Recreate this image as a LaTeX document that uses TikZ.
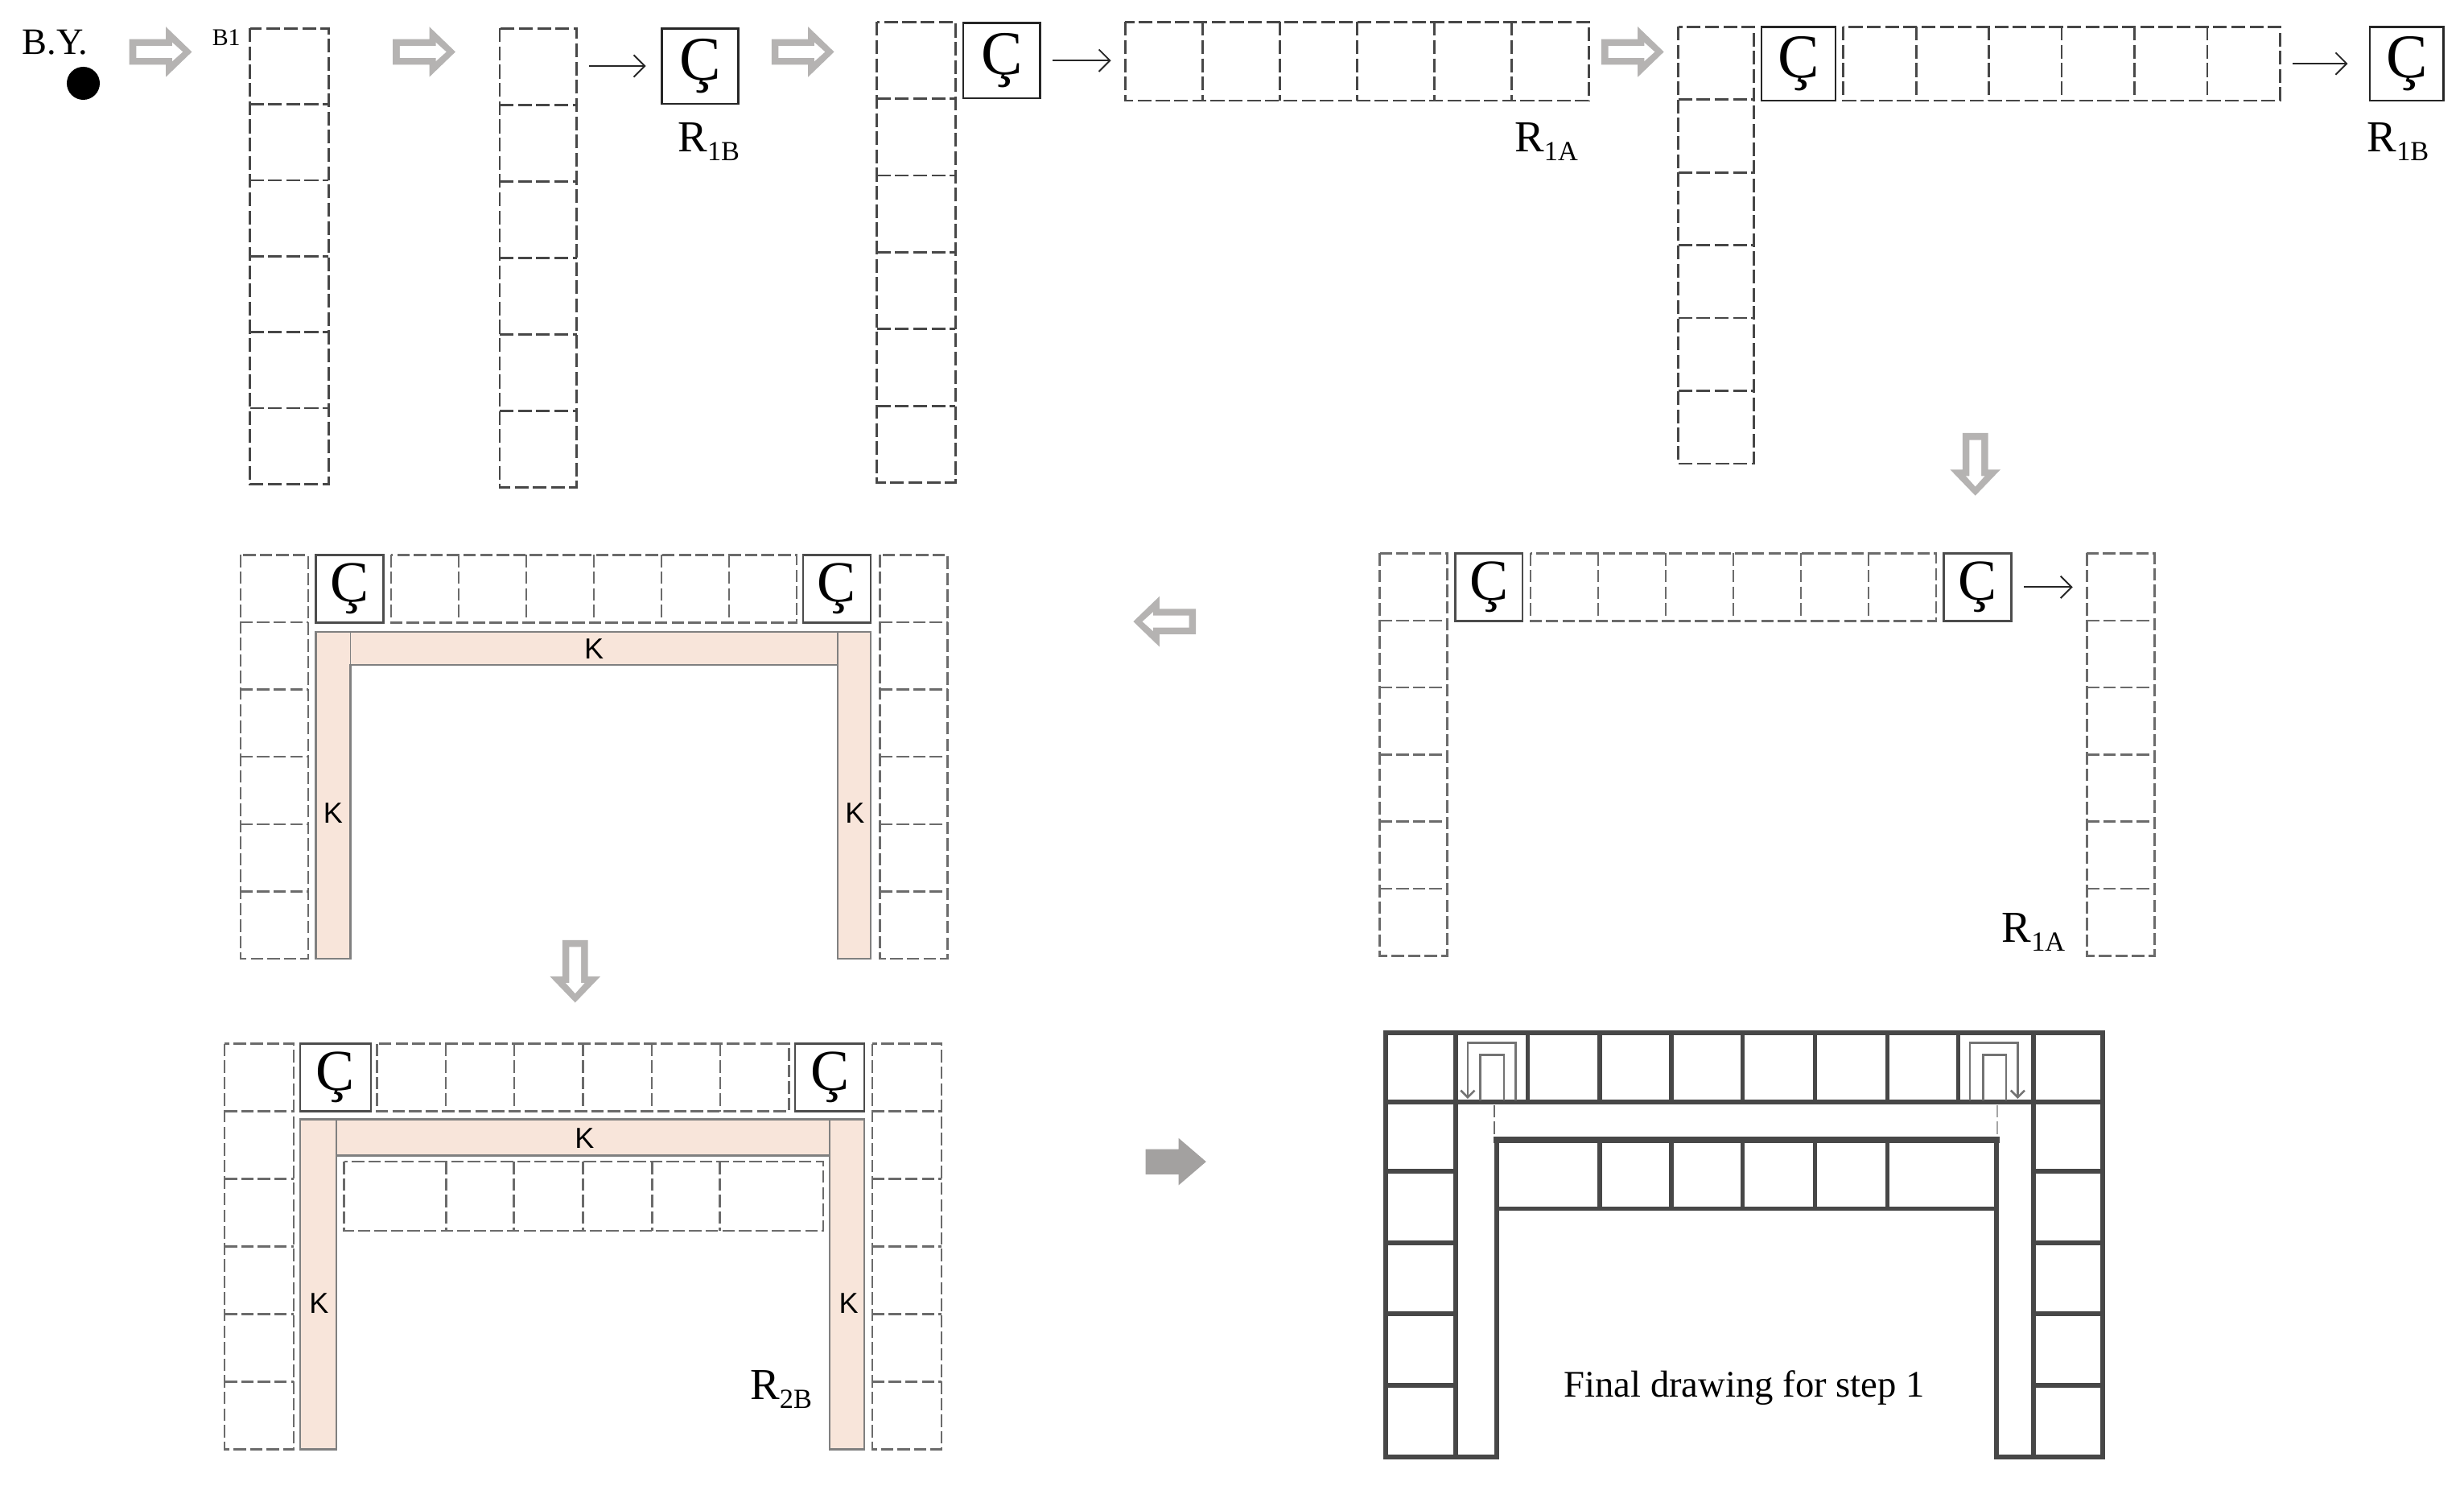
\documentclass[tikz,border=0pt]{standalone}
\usepackage{fontspec}
\setmainfont{Liberation Serif}
\newfontfamily\ksans{Liberation Sans}
\usetikzlibrary{arrows.meta}
\newcommand{\uu}{0.02cm}
\newcommand{\vcells}[5]{%
  \draw[#5] (#1,#2) rectangle (#3,#4);
  \foreach \i in {1,...,5}{\pgfmathsetmacro\yy{#2+(#4-#2)*\i/6}\draw[#5] (#1,\yy) -- (#3,\yy);}}
\newcommand{\hcells}[5]{%
  \draw[#5] (#1,#2) rectangle (#3,#4);
  \foreach \i in {1,...,5}{\pgfmathsetmacro\xx{#1+(#3-#1)*\i/6}\draw[#5] (\xx,#2) -- (\xx,#4);}}
\newcommand{\rlab}[1]{R{\fontsize{10}{10}\selectfont\raisebox{-3.2pt}{#1}}}
% hollow block arrow: tail x, y, rotation
\newcommand{\hollowarrow}[3]{\begin{scope}[shift={(#1,#2)},rotate=#3]
  \fill[arrowgray] (0,-8.1) -- (23.2,-8.1) -- (23.2,-16) -- (39.8,0) -- (23.2,16) -- (23.2,8.1) -- (0,8.1) -- cycle;
  \fill[white] (4.4,-3.8) -- (27.3,-3.8) -- (27.3,-6) -- (34,0) -- (27.3,6) -- (27.3,3.8) -- (4.4,3.8) -- cycle;
  \end{scope}}
\definecolor{arrowgray}{HTML}{B5B3B2}
\definecolor{peachc}{HTML}{F8E5DA}
\tikzset{
  x=0.02cm,y=-0.02cm,
  dashdark/.style={draw=black!72,line width=0.8pt,dash pattern=on 5pt off 1.6pt},
  dashlite/.style={draw=black!58,line width=0.7pt,dash pattern=on 4.5pt off 1.5pt},
  cbox/.style={draw=black!85,line width=0.8pt,inner sep=0pt,outer sep=0pt,minimum width=49*\uu,minimum height=48*\uu,font=\fontsize{22.5}{22.5}\selectfont},
  cboxs/.style={draw=black!70,line width=0.7pt,inner sep=0pt,outer sep=0pt,minimum width=43*\uu,minimum height=43*\uu,font=\fontsize{21}{21}\selectfont},
  conn/.style={draw=black!85,line width=0.55pt,-{Straight Barb[length=4pt,width=8pt]}},
  label/.style={font=\fontsize{16}{16}\selectfont,inner sep=0pt},
  klab/.style={font=\ksans\fontsize{10.5}{10.5}\selectfont,inner sep=0pt},
  beam/.style={draw=black!50,fill=peachc,line width=0.7pt},
  heavy/.style={draw=black!72,line width=1.8pt,line cap=rect},
  ucurve/.style={draw=black!55,line width=0.75pt},
}
\begin{document}
\begin{tikzpicture}
\useasboundingbox[fill=white] (0,0) rectangle (1568,947.8);

% --- top row ---
\node[font=\fontsize{13.5}{13.5}\selectfont,inner sep=0pt] (by) at (35,27) {B.Y.};
\node[circle,fill=black,minimum size=21*\uu,inner sep=0pt] (dot) at (53,53) {};
\hollowarrow{82.3}{33}{0}
\node[font=\fontsize{8.7}{8.7}\selectfont,inner sep=0pt] (b1) at (144,24) {B1};
\vcells{159}{18}{209}{308}{dashdark}
\hollowarrow{250}{33}{0}
\vcells{318}{18}{367}{310}{dashdark}
\coordinate (c2e) at (367,42);
\node[cbox] (c1) at (445.5,42) {Ç};
\draw[conn,shorten <=8*\uu,shorten >=10*\uu] (c2e) -- (c1.west);
\node[label] (r1) at (451,90) {\rlab{1B}};
\hollowarrow{491}{33}{0}

\vcells{558}{14}{608}{307}{dashdark}
\node[cbox] (c2) at (637.5,38.5) {Ç};
\coordinate (r3w) at (716,38.5);
\draw[conn,shorten <=8*\uu,shorten >=9*\uu] (c2.east) -- (r3w);
\hcells{716}{14}{1011}{64}{dashdark}
\node[label] (r2) at (984,90) {\rlab{1A}};
\hollowarrow{1019}{33}{0}

\vcells{1068}{17}{1116}{295}{dashdark}
\node[cbox,minimum width=47*\uu,minimum height=47*\uu] (c3) at (1144.5,40.5) {Ç};
\hcells{1173}{17}{1451}{64}{dashdark}
\coordinate (r4e) at (1451,40.5);
\node[cbox,minimum width=47*\uu,minimum height=47*\uu] (c4) at (1531.5,40.5) {Ç};
\draw[conn,shorten <=8*\uu,shorten >=14*\uu] (r4e) -- (c4.west);
\node[label] (r3) at (1526,90) {\rlab{1B}};

\hollowarrow{1257}{275.5}{-90}

% --- second row, right ---
\vcells{878}{352}{921}{608}{dashlite}
\node[cboxs] (c5) at (947.5,373.5) {Ç};
\hcells{974}{352}{1232}{395}{dashlite}
\node[cboxs] (c6) at (1258.5,373.5) {Ç};
\vcells{1328}{352}{1371}{608}{dashlite}
\coordinate (c7w) at (1328,373.5);
\draw[conn,shorten <=8*\uu,shorten >=9*\uu] (c6.east) -- (c7w);
\node[label] (r4) at (1294,593) {\rlab{1A}};

\hollowarrow{761}{395.4}{180}

% --- second row, left ---
\vcells{153}{353}{196}{610}{dashlite}
\node[cboxs] (c8) at (222.5,374.5) {Ç};
\hcells{249}{353}{507}{396}{dashlite}
\node[cboxs] (c9) at (532.5,374.5) {Ç};
\vcells{560}{353}{603}{610}{dashlite}
\draw[beam] (201,402) -- (554,402) -- (554,610) -- (533,610) -- (533,423) -- (223,423) -- (223,610) -- (201,610) -- cycle;
\draw[draw=black!50,line width=0.5pt] (223,402) -- (223,423) (533,402) -- (533,423);
\node[klab] (k1) at (378,413) {K};
\node[klab] (k2) at (212,517) {K};
\node[klab] (k3) at (544,517) {K};

\hollowarrow{366}{598}{-90}

% --- third row, left ---
\vcells{143}{664}{187}{922}{dashlite}
\node[cboxs,minimum width=45*\uu] (c10) at (213.5,685.5) {Ç};
\hcells{240}{664}{502}{707}{dashlite}
\node[cboxs,minimum width=44*\uu] (c11) at (528,685.5) {Ç};
\vcells{555}{664}{599}{922}{dashlite}
\draw[beam] (191,712) -- (550,712) -- (550,922) -- (528,922) -- (528,735) -- (214,735) -- (214,922) -- (191,922) -- cycle;
\draw[draw=black!50,line width=0.5pt] (214,712) -- (214,735) (528,712) -- (528,735);
\node[klab] (k4) at (372,724) {K};
\node[klab] (k5) at (203,829) {K};
\node[klab] (k6) at (540,829) {K};
\draw[dashlite] (219,739) rectangle (524,783);
\foreach \xx in {284,327,371,415,458}{\draw[dashlite] (\xx,739) -- (\xx,783);}
\node[label] (r5) at (497,884) {\rlab{2B}};

\fill[arrowgray!90!black] (729,731) -- (750,731) -- (750,724) -- (767.5,739) -- (750,754) -- (750,747) -- (729,747) -- cycle;

% --- final drawing ---
\draw[heavy,line join=miter] (952.5,725) -- (952.5,927) -- (882,927) -- (882,657) -- (1338,657) -- (1338,927) -- (1270.5,927) -- (1270.5,725);
\draw[heavy] (882,701) -- (1338,701);
\draw[heavy] (926.5,657) -- (926.5,927);
\draw[heavy] (1294,657) -- (1294,927);
\foreach \xx in {972,1018,1063.6,1109,1155,1201,1246}{\draw[heavy,line width=1.5pt] (\xx,657) -- (\xx,701);}
\foreach \yy in {745,790.6,835.7,881.3}{\draw[heavy] (882,\yy) -- (926.5,\yy); \draw[heavy] (1294,\yy) -- (1338,\yy);}
\draw[heavy,line width=2.2pt] (952.5,725) -- (1270.5,725);
\draw[heavy,line width=1.5pt] (952.5,769) -- (1270.5,769);
\foreach \xx in {1018,1063.6,1109,1155,1201}{\draw[heavy,line width=1.5pt] (\xx,725) -- (\xx,769);}
\draw[dashlite,line width=0.5pt] (951,703) -- (951,724);
\draw[dashlite,line width=0.4pt,draw=black!35] (1271,703) -- (1271,724);
% U-shaped bars in the corner cells
\draw[ucurve,{Straight Barb[length=2.5pt,width=5pt]}-] (934,699) -- (934,663.3) -- (964.4,663.3) -- (964.4,700);
\draw[ucurve] (942,700) -- (942,671) -- (957,671) -- (957,700);
\draw[ucurve,-{Straight Barb[length=2.5pt,width=5pt]}] (1253.5,700) -- (1253.5,663.3) -- (1284,663.3) -- (1284,699);
\draw[ucurve] (1262,700) -- (1262,671) -- (1276.6,671) -- (1276.6,700);
\node[font=\fontsize{13.6}{13.6}\selectfont,inner sep=0pt] (ft) at (1110,883) {Final drawing for step 1};
\end{tikzpicture}
\end{document}
